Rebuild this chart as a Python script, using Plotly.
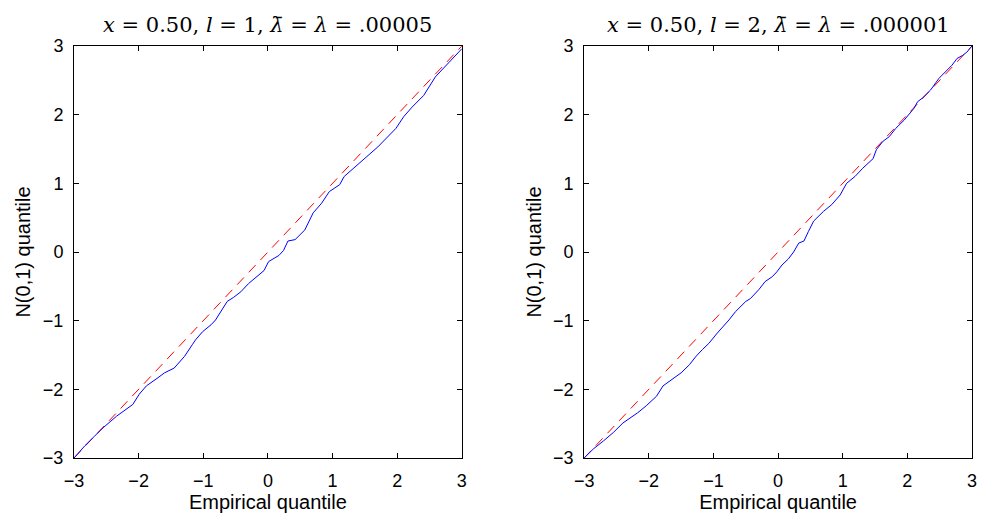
import plotly.graph_objects as go
from plotly.subplots import make_subplots

# Left panel: x = 0.50, l = 1
left_emp = [-3.0, -2.83, -2.68, -2.55, -2.34, -2.16, -2.09, -1.99, -1.88, -1.70, -1.60, -1.45,
            -1.29, -1.17, -1.12, -1.01, -0.88, -0.81, -0.73, -0.63, -0.53, -0.42, -0.30, -0.17,
            -0.06, 0.01, 0.09, 0.17, 0.24, 0.31, 0.42, 0.57, 0.70, 0.83, 0.95, 1.11, 1.18, 1.41,
            1.70, 1.98, 2.10, 2.23, 2.41, 2.59, 3.0]
left_norm = [-3.0, -2.82, -2.68, -2.56, -2.39, -2.27, -2.22, -2.07, -1.95, -1.83, -1.76, -1.69,
             -1.52, -1.35, -1.28, -1.16, -1.06, -0.99, -0.87, -0.72, -0.66, -0.58, -0.46, -0.36,
             -0.27, -0.14, -0.10, -0.05, 0.02, 0.16, 0.18, 0.32, 0.57, 0.71, 0.88, 0.98, 1.10, 1.29,
             1.53, 1.80, 1.97, 2.11, 2.28, 2.55, 2.96]

# Right panel: x = 0.50, l = 2
right_emp = [-3.0, -2.86, -2.70, -2.55, -2.40, -2.27, -2.17, -2.04, -1.88, -1.78, -1.68, -1.50,
             -1.37, -1.27, -1.17, -1.07, -0.94, -0.84, -0.76, -0.66, -0.50, -0.43, -0.30, -0.20,
             -0.09, -0.02, 0.06, 0.16, 0.24, 0.32, 0.40, 0.47, 0.55, 0.70, 0.83, 0.96, 1.06, 1.19,
             1.31, 1.47, 1.52, 1.62, 1.72, 1.82, 1.95, 2.10, 2.16, 2.23, 2.36, 2.49, 2.59, 2.69,
             2.77, 2.85, 2.92, 3.0]
right_norm = [-3.0, -2.87, -2.75, -2.63, -2.49, -2.41, -2.34, -2.24, -2.10, -1.95, -1.88, -1.76,
              -1.64, -1.52, -1.42, -1.33, -1.18, -1.08, -0.99, -0.87, -0.72, -0.68, -0.55, -0.43,
              -0.36, -0.29, -0.19, -0.10, 0.0, 0.13, 0.16, 0.30, 0.45, 0.59, 0.69, 0.83, 1.00, 1.10,
              1.22, 1.36, 1.49, 1.61, 1.68, 1.80, 1.92, 2.09, 2.19, 2.24, 2.36, 2.53, 2.62, 2.72,
              2.82, 2.86, 2.91, 3.0]

ref_line = [-3, 3]
tick_vals = [-3, -2, -1, 0, 1, 2, 3]
tick_text = ["\u22123", "\u22122", "\u22121", "0", "1", "2", "3"]
titles = ["<i>x</i> = 0.50, <i>l</i> = 1, <i>\u03bb\u0304</i> = <i>\u03bb</i> = .00005",
          "<i>x</i> = 0.50, <i>l</i> = 2, <i>\u03bb\u0304</i> = <i>\u03bb</i> = .000001"]

W, H = 978, 508
L, R, T, B = 66, 9, 38, 57
pw = W - L - R
fig = make_subplots(rows=1, cols=2)
d1 = [0, 390 / pw]
d2 = [513 / pw, 1]

SANS = "Liberation Sans, Arial, sans-serif"
panels = [(left_emp, left_norm), (right_emp, right_norm)]
for i, (ex, ny) in enumerate(panels):
    fig.add_trace(go.Scatter(x=ref_line, y=ref_line, mode="lines",
                             line=dict(color="#ff0000", width=1, dash="10px,7px"),
                             showlegend=False, hoverinfo="skip"), row=1, col=i + 1)
    fig.add_trace(go.Scatter(x=ex, y=ny, mode="lines",
                             line=dict(color="#0000ff", width=1),
                             showlegend=False), row=1, col=i + 1)

axis_common = dict(range=[-3, 3], tickvals=tick_vals, ticktext=tick_text,
                   ticks="inside", ticklen=5, tickcolor="black", tickwidth=1,
                   showline=True, linecolor="black", linewidth=1, mirror="ticks",
                   showgrid=False, zeroline=False, ticklabelstandoff=6,
                   tickfont=dict(family=SANS, size=18, color="black"))

fig.update_xaxes(**axis_common)
fig.update_yaxes(**axis_common)
fig.update_layout(xaxis=dict(domain=d1), xaxis2=dict(domain=d2))
for ax in ["xaxis", "xaxis2"]:
    fig.layout[ax].title = dict(text="Empirical quantile", standoff=2,
                                font=dict(family=SANS, size=20, color="black"))
for ax in ["yaxis", "yaxis2"]:
    fig.layout[ax].title = dict(text="N(0,1) quantile", standoff=6,
                                font=dict(family=SANS, size=20, color="black"))

for i, t in enumerate(titles):
    dom = d1 if i == 0 else d2
    fig.add_annotation(text=t, x=(dom[0] + dom[1]) / 2, y=1, xref="paper", yref="paper",
                       xanchor="center", yanchor="bottom", yshift=7, showarrow=False,
                       font=dict(family="DejaVu Serif, serif", size=21, color="black"))

fig.update_layout(width=W, height=H, margin=dict(l=L, r=R, t=T, b=B),
                  paper_bgcolor="white", plot_bgcolor="white")

fig.write_html("out.html")
